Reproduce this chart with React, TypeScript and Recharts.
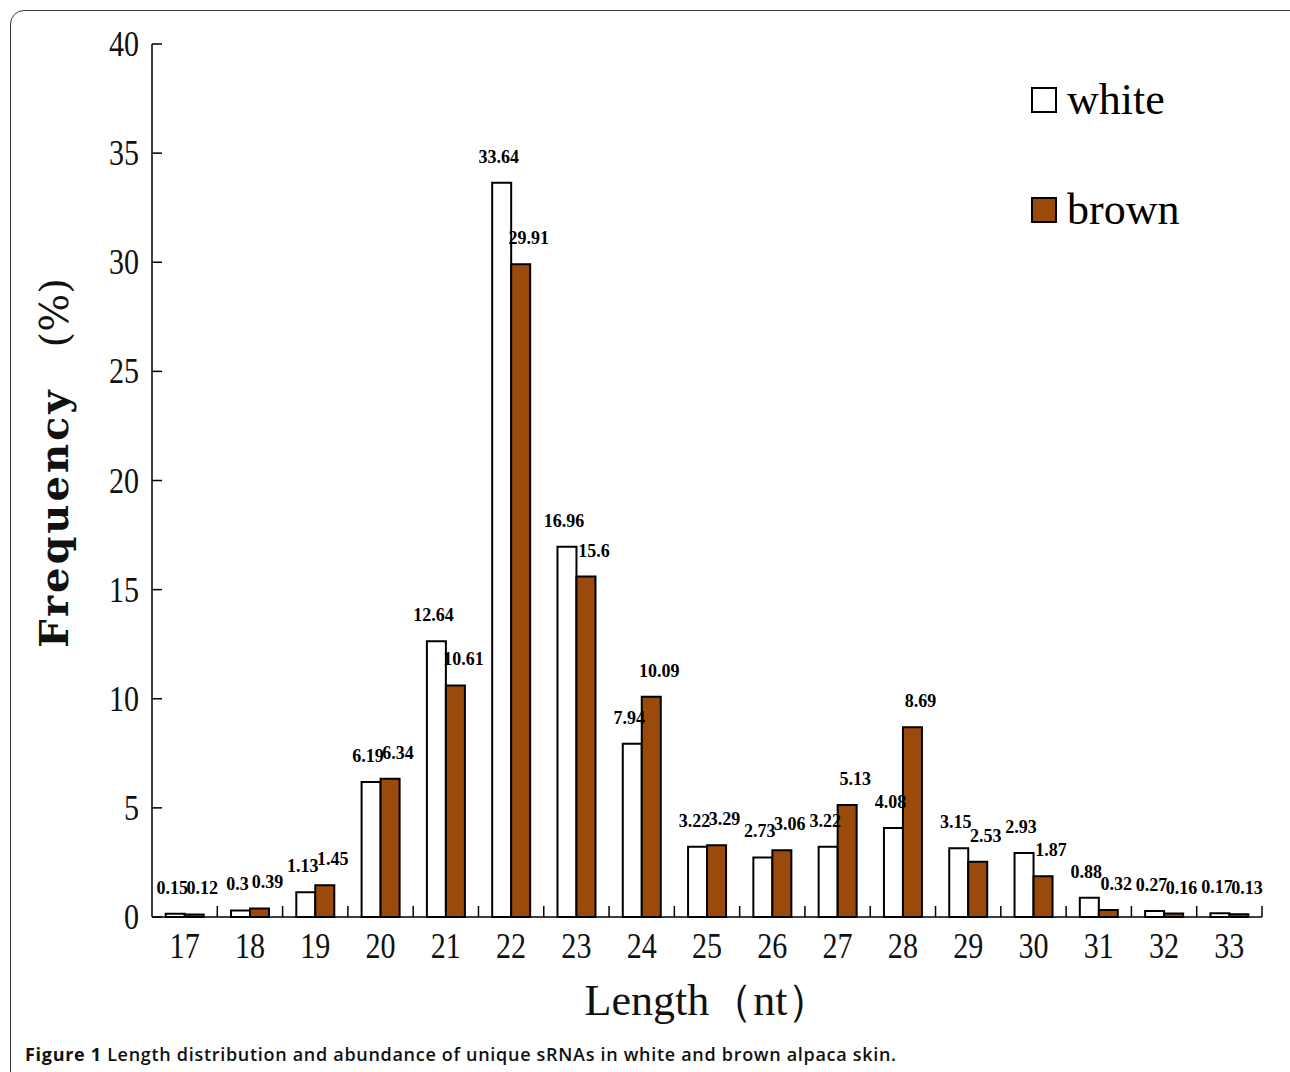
import { Bar, BarChart, LabelList, XAxis, YAxis } from "recharts"

const lengths = ["17", "18", "19", "20", "21", "22", "23", "24", "25", "26", "27", "28", "29", "30", "31", "32", "33"]
const whiteValues = [0.15, 0.3, 1.13, 6.19, 12.64, 33.64, 16.96, 7.94, 3.22, 2.73, 3.22, 4.08, 3.15, 2.93, 0.88, 0.27, 0.17]
const brownValues = [0.12, 0.39, 1.45, 6.34, 10.61, 29.91, 15.6, 10.09, 3.29, 3.06, 5.13, 8.69, 2.53, 1.87, 0.32, 0.16, 0.13]
const yTicks = [0, 5, 10, 15, 20, 25, 30, 35, 40]

const BROWN = "#9c4a0b"
const PLOT_W = 1110
const BAND = PLOT_W / lengths.length
const TICK_FONT = "'Liberation Serif', serif"

const series = [
  { key: "white", name: "white", color: "#ffffff", dx: -3 },
  { key: "brown", name: "brown", color: BROWN, dx: 8 },
]

const data = lengths.map((len, i) => ({ len, white: whiteValues[i], brown: brownValues[i] }))

function YTick(props: any) {
  const { x, y, payload } = props
  return (
    <g>
      <line x1={x} x2={x + 10} y1={y} y2={y} stroke="#000" strokeWidth={1.5} />
      <text transform={`translate(${x - 13},${y + 12}) scale(0.86,1)`} textAnchor="end" fontFamily={TICK_FONT} fontSize={35} fill="#111">
        {payload.value}
      </text>
    </g>
  )
}

function XTick(props: any) {
  const { x, y, payload } = props
  const right = x + BAND / 2
  return (
    <g>
      <line x1={right} x2={right} y1={y} y2={y - 11} stroke="#000" strokeWidth={1.5} />
      <text transform={`translate(${x},${y + 41}) scale(0.86,1)`} textAnchor="middle" fontFamily={TICK_FONT} fontSize={35} fill="#111">
        {payload.value}
      </text>
    </g>
  )
}

const valueLabel = (dx: number) => (props: any) => {
  const { x, y, width, value } = props
  return (
    <text x={x + width / 2 + dx} y={y - 20} textAnchor="middle" fontFamily={TICK_FONT} fontWeight="bold" fontSize={18} fill="#000">
      {String(value)}
    </text>
  )
}

function ChartLegend() {
  return (
    <div style={{ position: "absolute", top: 75, left: 1031 }}>
      {series.map((s) => (
        <div key={s.key} style={{ display: "flex", alignItems: "center", height: 50, marginBottom: 60 }}>
          <div style={{ width: 22, height: 22, border: "2px solid #000", background: s.color }} />
          <span style={{ marginLeft: 10, fontFamily: TICK_FONT, fontSize: 44, color: "#000", lineHeight: "50px" }}>{s.name}</span>
        </div>
      ))}
    </div>
  )
}

export default function App() {
  return (
    <div style={{ position: "absolute", left: 0, top: 0, width: 1290, height: 1072, overflow: "hidden", background: "#fff" }}>
      <div
        style={{
          position: "absolute",
          left: 10,
          top: 10,
          width: 1300,
          height: 1080,
          border: "1.5px solid #3a3a3a",
          borderRadius: 14,
          boxSizing: "border-box",
        }}
      />
      <BarChart
        width={1290}
        height={1072}
        data={data}
        margin={{ top: 44, right: 28, bottom: 95, left: 92 }}
        barCategoryGap="21%"
        barGap={0}
        style={{ position: "absolute", left: 0, top: 0 }}
      >
        <XAxis
          dataKey="len"
          height={60}
          stroke="#000"
          strokeWidth={1.5}
          tickLine={false}
          tickSize={0}
          tickMargin={0}
          interval={0}
          tick={<XTick />}
          label={{
            content: () => (
              <text x={708} y={1015} textAnchor="middle" fontFamily={TICK_FONT} fontSize={44} fill="#111">
                Length（nt）
              </text>
            ),
          }}
        />
        <YAxis
          width={60}
          domain={[0, 40]}
          ticks={yTicks}
          stroke="#000"
          strokeWidth={1.5}
          tickLine={false}
          tickSize={0}
          tickMargin={0}
          interval={0}
          tick={<YTick />}
          label={{
            content: () => (
              <text transform="translate(68,463) rotate(-90)" textAnchor="middle" fontFamily="'DejaVu Serif', serif" fontSize={40} fill="#111">
                <tspan fontWeight="bold" letterSpacing={3}>Frequency</tspan>
                <tspan dx={40}>(%)</tspan>
              </text>
            ),
          }}
        />
        {series.map((s) => (
          <Bar key={s.key} dataKey={s.key} name={s.name} fill={s.color} stroke="#000" strokeWidth={2} isAnimationActive={false}>
            <LabelList dataKey={s.key} content={valueLabel(s.dx)} />
          </Bar>
        ))}
      </BarChart>
      <ChartLegend />
      <div
        style={{
          position: "absolute",
          left: 25,
          top: 1042,
          fontFamily: "'Open Sans', sans-serif",
          fontSize: 18,
          fontWeight: 600,
          color: "#111",
          whiteSpace: "nowrap",
          letterSpacing: 0.7,
        }}
      >
        <span style={{ fontWeight: 700 }}>Figure 1</span> Length distribution and abundance of unique sRNAs in white and brown alpaca skin.
      </div>
    </div>
  )
}
